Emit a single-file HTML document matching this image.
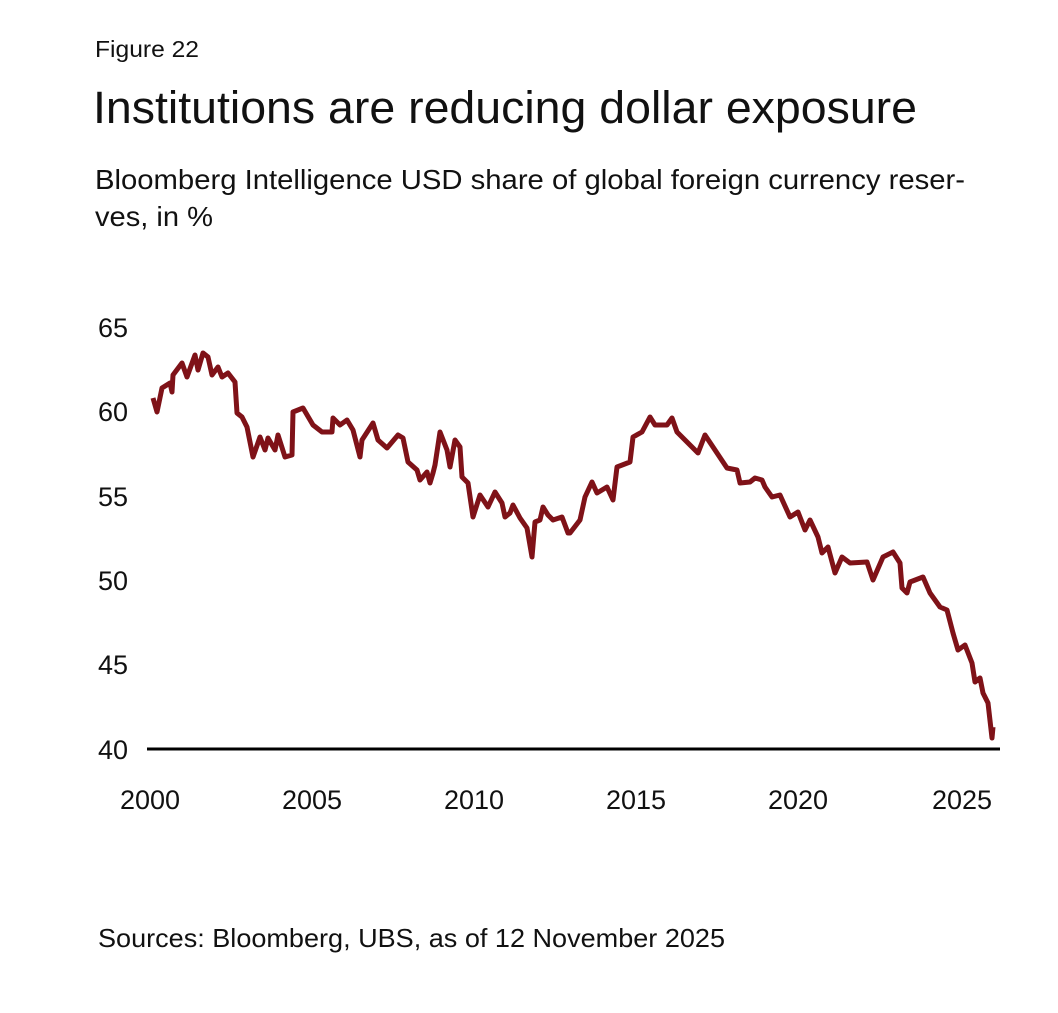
<!DOCTYPE html>
<html><head><style>
body{margin:0;background:#fff;}
svg text{font-family:"Liberation Sans",sans-serif;fill:#111;}
</style></head><body>
<svg width="1058" height="1008" xmlns="http://www.w3.org/2000/svg">
<text x="95" y="57" font-size="23" textLength="104" lengthAdjust="spacingAndGlyphs">Figure 22</text>
<text x="93" y="123" font-size="45" textLength="824" lengthAdjust="spacingAndGlyphs">Institutions are reducing dollar exposure</text>
<text x="95" y="189" font-size="28" textLength="870" lengthAdjust="spacingAndGlyphs">Bloomberg Intelligence USD share of global foreign currency reser-</text>
<text x="95" y="226" font-size="28" textLength="118" lengthAdjust="spacingAndGlyphs">ves, in %</text>
<g font-size="27">
<text x="98" y="337">65</text>
<text x="98" y="421">60</text>
<text x="98" y="506">55</text>
<text x="98" y="590">50</text>
<text x="98" y="674">45</text>
<text x="98" y="759">40</text>
</g>
<g font-size="27" text-anchor="middle">
<text x="150" y="809">2000</text>
<text x="312" y="809">2005</text>
<text x="474" y="809">2010</text>
<text x="636" y="809">2015</text>
<text x="798" y="809">2020</text>
<text x="962" y="809">2025</text>
</g>
<line x1="147" y1="749" x2="1000" y2="749" stroke="#000" stroke-width="3"/>
<polyline fill="none" stroke="#7f1218" stroke-width="5" stroke-linejoin="round" points="153,398 157,412 162,388 170,383 172,392 173,375 182,363 187,377 195,355 198,370 203,353 208,357 212,375 218,367 222,377 228,373 235,382 237,413 242,417 247,427 253,457 260,437 265,450 268,438 275,450 278,435 285,457 292,455 293,412 303,408 313,425 322,432 332,432 333,418 340,425 347,420 353,430 360,457 362,440 373,423 378,440 387,448 398,435 403,438 408,462 417,470 420,480 427,472 430,483 433,473 435,465 440,432 447,450 450,467 455,440 460,447 462,477 468,483 473,517 480,495 488,507 495,492 502,503 505,517 510,513 513,505 520,518 527,528 532,557 535,522 540,520 543,507 548,515 553,520 562,517 568,533 570,533 580,520 585,497 592,482 597,493 607,487 613,500 617,467 630,462 633,437 642,432 650,417 655,425 667,425 672,418 677,432 687,442 698,453 705,435 717,453 727,468 737,470 740,483 750,482 755,478 762,480 765,487 772,497 780,495 790,517 798,512 805,530 810,520 818,537 822,553 828,547 835,573 842,557 850,563 867,562 873,580 883,557 893,552 900,563 902,588 907,593 910,582 923,577 930,593 940,607 947,610 953,633 958,650 965,645 972,663 975,682 980,678 983,693 988,703 992,738 993,727"/>
<text x="98" y="947" font-size="26" textLength="627" lengthAdjust="spacingAndGlyphs">Sources: Bloomberg, UBS, as of 12 November 2025</text>
</svg>
</body></html>
